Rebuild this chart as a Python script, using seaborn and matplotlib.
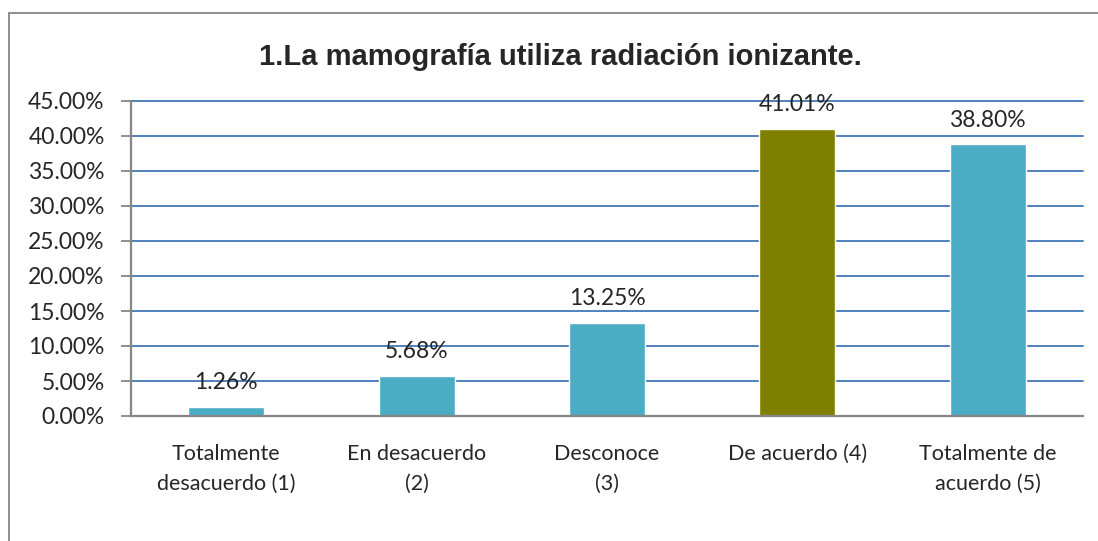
import numpy as np
import pandas as pd
import matplotlib
matplotlib.use("Agg")
import matplotlib.pyplot as plt
import seaborn as sns
from matplotlib.patches import Rectangle

categorias = ["Totalmente\ndesacuerdo (1)", "En desacuerdo\n(2)", "Desconoce\n(3)",
              "De acuerdo (4)", "Totalmente de\nacuerdo (5)"]
porcentajes = [1.26, 5.68, 13.25, 41.01, 38.80]
colores = ["#4BACC6", "#4BACC6", "#4BACC6", "#808000", "#4BACC6"]
titulo = "1.La mamografía utiliza radiación ionizante."

df = pd.DataFrame({"cat": categorias, "pct": porcentajes})

sns.set_style("white")
plt.rcParams['font.family'] = ['Lato', 'DejaVu Sans']

fig = plt.figure(figsize=(10.98, 5.41), dpi=100)
ax = fig.add_axes([131/1098, 125/541, (1083-131)/1098, (416-101)/541])

# outer chart frame (right and bottom edges fall outside the image)
fig.patches.append(Rectangle((9/1098, -0.05), 1.2, 1.05 - 13/541,
                             transform=fig.transFigure, fill=False,
                             edgecolor="#868686", linewidth=1.3))

sns.barplot(data=df, x="cat", y="pct", hue="cat", palette=colores, legend=False,
            width=0.4, ax=ax, zorder=3, saturation=1)

ax.set_ylim(0, 45)
ax.set_xlim(-0.5, 4.5)
ax.set_yticks(np.arange(0, 46, 5))
ax.set_yticklabels([f"{v:.2f}%" for v in np.arange(0, 46, 5)], fontsize=16.5)
ax.yaxis.grid(True, color="#4F81BD", linewidth=1.4, zorder=0)
for gl in ax.get_ygridlines():
    gl.set_clip_on(False)
ax.set_axisbelow(True)

ax.set_xticks(np.arange(5))
ax.set_xticklabels(categorias, fontsize=15.5, va="top", linespacing=1.65)
ax.tick_params(axis="x", length=0, pad=20)
ax.set_xticks(np.arange(-0.5, 5, 1), minor=True)
ax.tick_params(axis="x", which="minor", length=7, color="#868686", width=1.3, direction="out")
ax.tick_params(axis="y", length=7, color="#868686", width=1.3, direction="out", pad=12, left=True)
ax.set_xlabel("")
ax.set_ylabel("")

for s in ["top", "right"]:
    ax.spines[s].set_visible(False)
for s in ["left", "bottom"]:
    ax.spines[s].set_color("#868686")
    ax.spines[s].set_linewidth(1.6)
    ax.spines[s].set_zorder(4)

for i, v in enumerate(porcentajes):
    ax.annotate(f"{v:.2f}%", (i, v), xytext=(0, 10), textcoords="offset points",
                ha="center", va="bottom", fontsize=16.5, zorder=5)

fig.text(560/1098, 1 - 57/541, titulo, ha="center", va="center", fontsize=21,
         fontweight="bold", family=["Liberation Sans", "DejaVu Sans"])

fig.savefig("out.png", dpi=100)
